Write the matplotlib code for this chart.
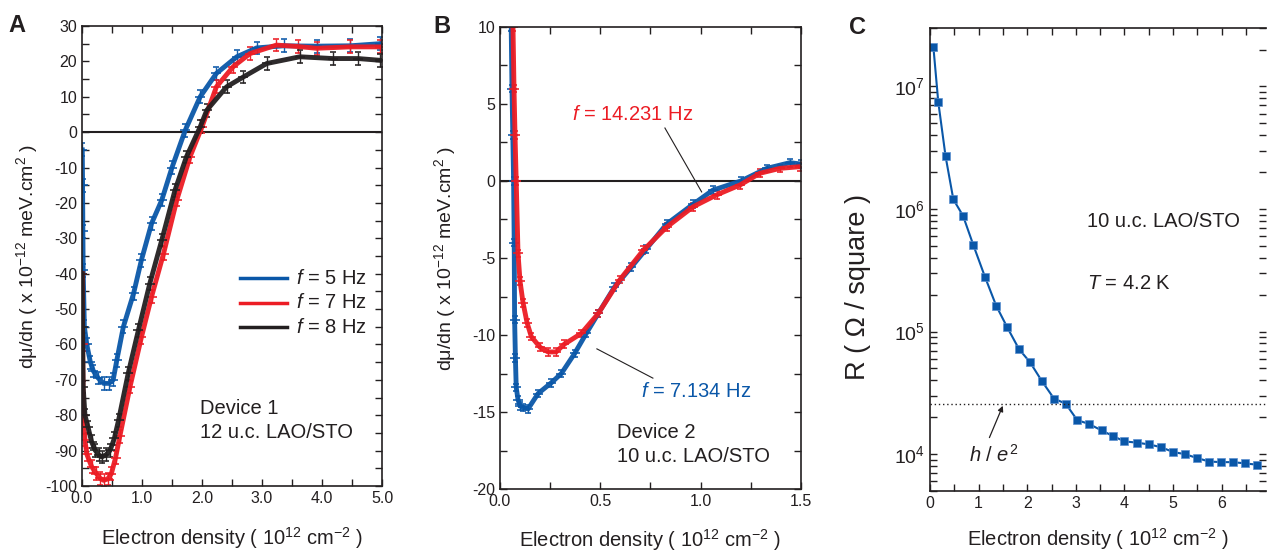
import numpy as np
import matplotlib
matplotlib.use("Agg")
import matplotlib.pyplot as plt
from matplotlib.ticker import MultipleLocator, LogLocator, NullFormatter, FormatStrFormatter

plt.rcParams['font.family'] = ['Liberation Sans', 'DejaVu Sans']
plt.rcParams['mathtext.fontset'] = 'custom'
plt.rcParams['mathtext.rm'] = 'Liberation Sans'
plt.rcParams['mathtext.it'] = 'Liberation Sans:italic'
plt.rcParams['mathtext.default'] = 'regular'
plt.rcParams['axes.unicode_minus'] = False

BLUE = '#0a57a8'
RED = '#ec1c24'
BLACK = '#231f20'
TXT = '#231f20'

# ---- panel A: device 1, three frequencies ----
a_blue_x = [0.005, 0.01, 0.015, 0.02, 0.04, 0.08, 0.14, 0.19, 0.27, 0.36, 0.45, 0.52, 0.58,
            0.69, 0.86, 0.99, 1.16, 1.33, 1.50, 1.72, 1.97, 2.24, 2.58, 2.91, 3.36, 3.91, 4.47, 4.97]
a_blue_y = [-5, -15, -28, -39, -55, -60, -65, -67.5, -69.5, -71, -71, -70, -64.5,
            -55, -45.6, -36.2, -25.8, -19.2, -10, 0.5, 10, 16.6, 21.3, 23.8, 24.4, 24.3, 24.4, 25]
a_red_x = [0.005, 0.01, 0.02, 0.05, 0.08, 0.16, 0.24, 0.30, 0.36, 0.43, 0.49, 0.56, 0.63,
           0.80, 0.99, 1.16, 1.36, 1.58, 1.80, 2.0, 2.24, 2.52, 2.8, 3.24, 3.6, 3.91, 4.47, 4.97]
a_red_y = [-40, -60, -80, -87, -91, -94.5, -96.5, -97.8, -98.4, -98, -96.5, -92, -86,
           -72, -58, -46.5, -34.3, -19.2, -7, 1.5, 12.8, 18.5, 22.2, 24.6, 24.2, 23.7, 24.1, 24.1]
a_black_x = [0.005, 0.01, 0.02, 0.05, 0.1, 0.16, 0.22, 0.28, 0.33, 0.40, 0.47, 0.54, 0.61,
             0.77, 0.94, 1.13, 1.33, 1.55, 1.74, 1.97, 2.08, 2.41, 2.69, 3.08, 3.63, 4.18, 4.6, 4.97]
a_black_y = [-40, -55, -72, -80, -83.3, -87.5, -89.9, -91.2, -91.8, -91.2, -89.9, -86.5, -81.4,
             -68.2, -56, -42.8, -30.5, -16.4, -7, 1.5, 6.2, 12.8, 15.6, 19.4, 21.3, 20.8, 20.8, 20.3]
a_labels = ['5 Hz', '7 Hz', '8 Hz']
a_err = 1.8

# ---- panel B: device 2, two frequencies ----
b_blue_x = [0.056, 0.060, 0.064, 0.068, 0.071, 0.073, 0.077, 0.081, 0.09, 0.10, 0.115, 0.14,
            0.19, 0.256, 0.306, 0.372, 0.43, 0.49, 0.57, 0.654, 0.73, 0.83, 0.963, 1.06,
            1.20, 1.33, 1.445, 1.5]
b_blue_y = [10, 6, 3, 0, -4, -9, -11.5, -13.4, -14.2, -14.6, -14.7, -14.8,
            -13.8, -13.1, -12.5, -11.2, -9.9, -8.6, -6.9, -5.6, -4.4, -2.8, -1.5, -0.6,
            0.0, 0.82, 1.19, 1.1]
b_red_x = [0.065, 0.07, 0.075, 0.081, 0.09, 0.10, 0.115, 0.135, 0.156, 0.20, 0.24, 0.28,
           0.32, 0.405, 0.49, 0.598, 0.714, 0.83, 0.963, 1.08, 1.196, 1.295, 1.395, 1.495]
b_red_y = [10, 6, 3, 0, -4.7, -6.5, -7.9, -9.2, -10.1, -10.8, -11.1, -11.1,
           -10.6, -9.9, -8.6, -6.4, -4.5, -3.0, -1.67, -0.9, -0.26, 0.5, 0.82, 0.93]
b_err = 0.25

# ---- panel C: sheet resistance ----
c_x = [0.07, 0.17, 0.32, 0.48, 0.68, 0.89, 1.13, 1.36, 1.59, 1.83, 2.06, 2.30, 2.55, 2.79,
       3.03, 3.26, 3.53, 3.77, 4.00, 4.26, 4.50, 4.75, 5.00, 5.24, 5.49, 5.74, 5.99, 6.23,
       6.48, 6.72]
c_r = [2.1e7, 7.5e6, 2.7e6, 1.2e6, 8.8e5, 5.1e5, 2.8e5, 1.63e5, 1.08e5, 7.2e4, 5.6e4, 3.95e4,
       2.84e4, 2.58e4, 1.89e4, 1.77e4, 1.56e4, 1.40e4, 1.27e4, 1.24e4, 1.2e4, 1.14e4, 1.04e4,
       1.0e4, 9.3e3, 8.7e3, 8.6e3, 8.6e3, 8.4e3, 8.2e3]
h_over_e2 = 25813.0

XLABEL = 'Electron density ( 10$^{12}$ cm$^{-2}$ )'
YLABEL_AB = 'd\u03bc/dn ( x 10$^{-12}$ meV.cm$^{2}$ )'
FS_TXT = 14.5

fig = plt.figure(figsize=(12.67, 5.53), dpi=100)
axA = fig.add_axes([0.0647, 0.1212, 0.2368, 0.8318])
axB = fig.add_axes([0.3946, 0.1157, 0.2376, 0.8355])
axC = fig.add_axes([0.7340, 0.1121, 0.2656, 0.8373])


def style_axes(ax):
    ax.tick_params(which='both', direction='in', top=True, right=True,
                   length=5, width=1, colors=BLACK, labelcolor=TXT, labelsize=11.5)
    for s in ax.spines.values():
        s.set_linewidth(1.2)
        s.set_color(BLACK)


def dense(ax, x, y, color, err):
    ax.errorbar(x, y, yerr=err, fmt='-', color=color, lw=3.5, marker='_', ms=7, mew=1.2,
                elinewidth=1, capsize=2.5, capthick=1, ecolor=color, alpha=0.95)


# panel A
for x, y, c in [(a_blue_x, a_blue_y, BLUE), (a_red_x, a_red_y, RED), (a_black_x, a_black_y, BLACK)]:
    dense(axA, x, y, c, a_err)
axA.axhline(0, color=BLACK, lw=1.5, zorder=1)
axA.set_xlim(0, 5.0)
axA.set_ylim(-100, 30)
axA.xaxis.set_major_locator(MultipleLocator(1.0))
axA.xaxis.set_minor_locator(MultipleLocator(0.5))
axA.xaxis.set_major_formatter(FormatStrFormatter('%.1f'))
axA.yaxis.set_major_locator(MultipleLocator(10))
axA.yaxis.set_minor_locator(MultipleLocator(5))
style_axes(axA)
axA.set_xlabel(XLABEL, fontsize=FS_TXT, color=TXT, labelpad=14)
axA.set_ylabel(YLABEL_AB, fontsize=14, color=TXT, labelpad=4)
for i, (lab, c) in enumerate(zip(a_labels, [BLUE, RED, BLACK])):
    yy = -41.3 - 6.9 * i
    axA.plot([2.63, 3.42], [yy, yy], color=c, lw=2.5)
    axA.text(3.57, yy, r'$\mathit{f}$ = ' + lab, fontsize=FS_TXT, color=TXT, va='center')
axA.text(1.97, -78, 'Device 1', fontsize=FS_TXT, color=TXT, va='center')
axA.text(1.97, -85, '12 u.c. LAO/STO', fontsize=FS_TXT, color=TXT, va='center')
axA.text(-0.19, 1.0, 'A', transform=axA.transAxes, fontsize=17, fontweight='bold',
         color=TXT, ha='right', va='center')

# panel B
dense(axB, b_blue_x, b_blue_y, BLUE, b_err)
dense(axB, b_red_x, b_red_y, RED, b_err)
axB.axhline(0, color=BLACK, lw=1.5, zorder=1)
axB.set_xlim(0, 1.5)
axB.set_ylim(-20, 10)
axB.xaxis.set_major_locator(MultipleLocator(0.5))
axB.xaxis.set_minor_locator(MultipleLocator(0.25))
axB.xaxis.set_major_formatter(FormatStrFormatter('%.1f'))
axB.yaxis.set_major_locator(MultipleLocator(5))
axB.yaxis.set_minor_locator(MultipleLocator(2.5))
style_axes(axB)
axB.set_xlabel(XLABEL, fontsize=FS_TXT, color=TXT, labelpad=13)
axB.set_ylabel(YLABEL_AB, fontsize=14, color=TXT, labelpad=10)
axB.plot([0.822, 1.005], [3.44, -0.71], color=BLACK, lw=0.8)
axB.text(0.36, 4.3, r'$\mathit{f}$ = 14.231 Hz', fontsize=FS_TXT, color=RED, va='center')
axB.plot([0.483, 0.762], [-10.9, -12.8], color=BLACK, lw=0.8)
axB.text(0.705, -13.7, r'$\mathit{f}$ = 7.134 Hz', fontsize=FS_TXT, color=BLUE, va='center')
axB.text(0.583, -16.3, 'Device 2', fontsize=FS_TXT, color=TXT, va='center')
axB.text(0.583, -17.9, '10 u.c. LAO/STO', fontsize=FS_TXT, color=TXT, va='center')
axB.text(-0.165, 1.0, 'B', transform=axB.transAxes, fontsize=17, fontweight='bold',
         color=TXT, ha='right', va='center')

# panel C
axC.plot(c_x, c_r, '-', color=BLUE, lw=1.5, marker='s', ms=6, mec='#5b8fd0', mew=0.5)
axC.axhline(h_over_e2, color=BLACK, lw=1, ls=(0, (1, 2)))
axC.set_yscale('log')
axC.set_xlim(0, 6.92)
axC.set_ylim(5e3, 3e7)
axC.xaxis.set_major_locator(MultipleLocator(1))
axC.xaxis.set_minor_locator(MultipleLocator(0.5))
axC.yaxis.set_major_locator(LogLocator(base=10, numticks=10))
axC.yaxis.set_minor_locator(LogLocator(base=10, subs=np.arange(2, 10), numticks=10))
axC.yaxis.set_minor_formatter(NullFormatter())
style_axes(axC)
axC.tick_params(axis='y', which='major', labelsize=14)
axC.spines['right'].set_visible(False)
axC.set_xlabel(XLABEL, fontsize=FS_TXT, color=TXT, labelpad=11)
axC.set_ylabel('R ( \u03a9 / square )', fontsize=19.5, color=TXT)
axC.yaxis.set_label_coords(-0.175, 0.44)
axC.text(3.22, 7.9e5, '10 u.c. LAO/STO', fontsize=FS_TXT, color=TXT, va='center')
axC.text(3.22, 2.47e5, r'$\mathit{T}$ = 4.2 K', fontsize=FS_TXT, color=TXT, va='center')
axC.annotate('', xy=(1.52, 2.6e4), xytext=(1.2, 1.3e4),
             arrowprops=dict(arrowstyle='-|>', color=BLACK, lw=0.9, mutation_scale=8))
axC.text(0.8, 9.8e3, r'$\mathit{h}$ / $\mathit{e}^{2}$', fontsize=FS_TXT, color=TXT, va='center')
axC.text(-0.19, 1.0, 'C', transform=axC.transAxes, fontsize=17, fontweight='bold',
         color=TXT, ha='right', va='center')

fig.savefig('out.png', dpi=100)
